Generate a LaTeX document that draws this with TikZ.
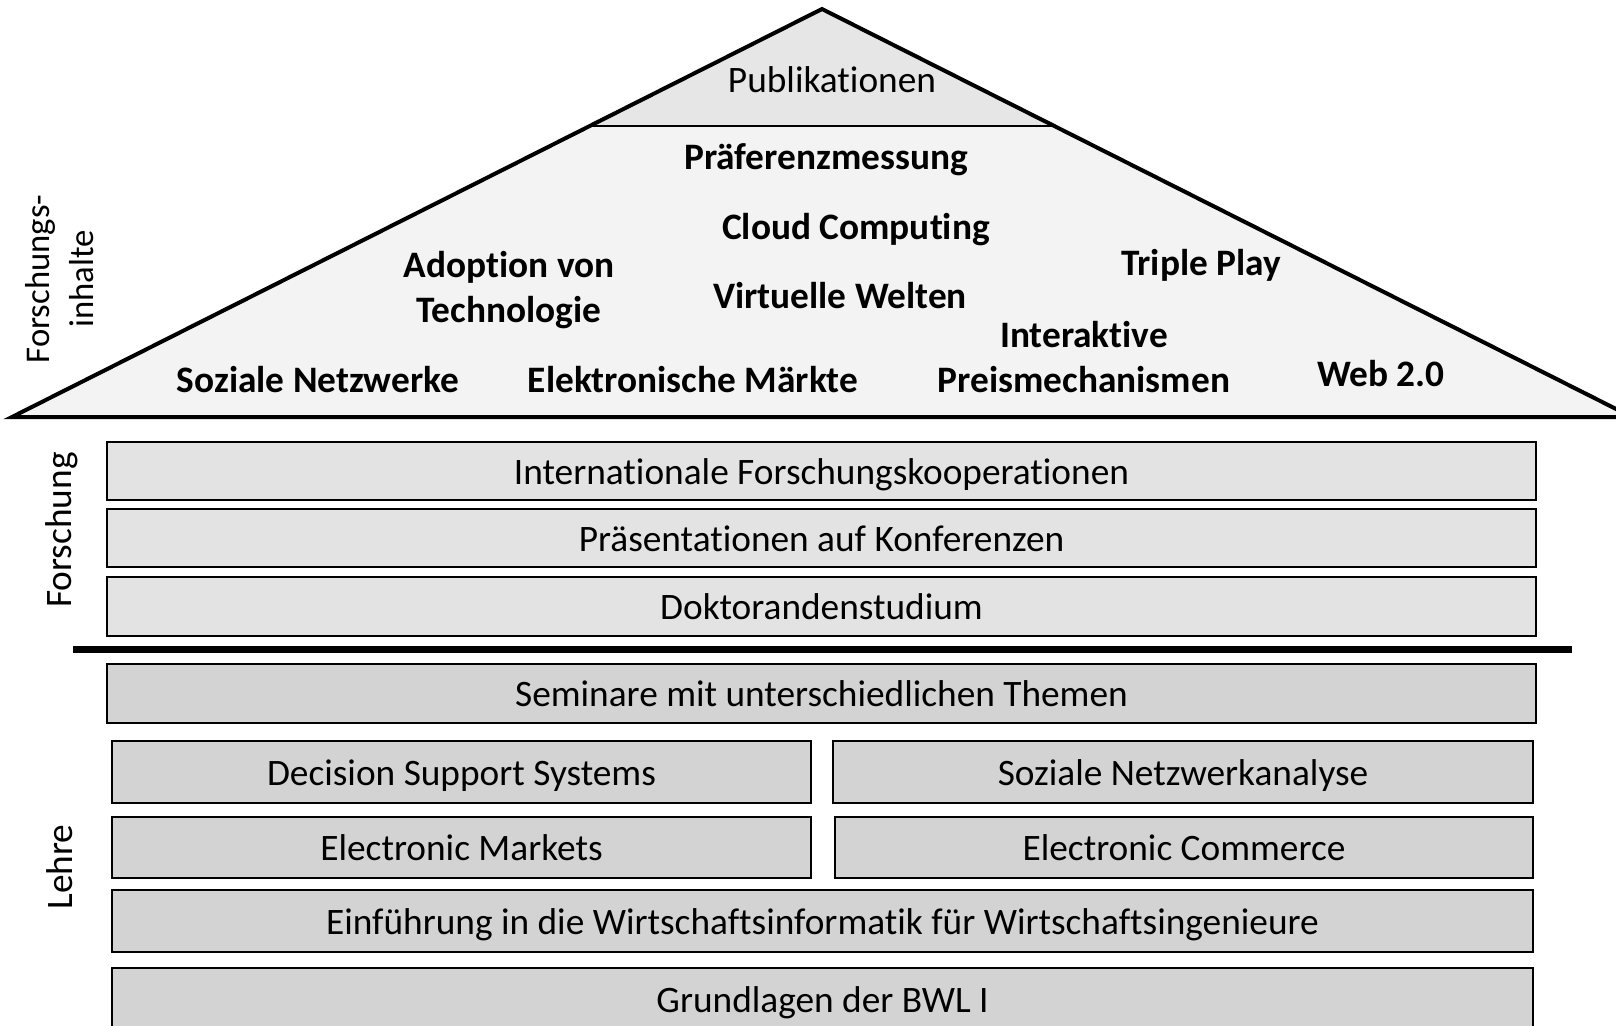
\documentclass[tikz,border=0pt]{standalone}
\usepackage{fontspec}
\setmainfont{Carlito}[RawFeature={-liga;-clig}]
\definecolor{roofpale}{HTML}{F3F3F3}
\definecolor{roofpub}{HTML}{E6E6E6}
\definecolor{researchfill}{HTML}{E3E3E3}
\definecolor{teachfill}{HTML}{D3D3D3}
\tikzset{
  band/.style 2 args={draw=black, line width=1.7pt, minimum width=#1*0.75pt,
    minimum height=#2*0.75pt, inner sep=0pt, text height=20pt, text depth=0.5pt,
    font=\fontsize{28}{33}\selectfont},
  resbox/.style 2 args={band={#1}{#2}, fill=researchfill},
  teachbox/.style 2 args={band={#1}{#2}, fill=teachfill},
  topic/.style={font=\bfseries\fontsize{28}{33.4}\selectfont, align=center,
    inner sep=0pt, anchor=base},
  sidelabel/.style={rotate=90, align=center, inner sep=0pt, font=\fontsize{28}{33}\selectfont},
}
\begin{document}
\begin{tikzpicture}[x=0.75pt, y=-0.75pt]
\useasboundingbox (0,0) rectangle (1616,1025);
\clip (0,0) rectangle (1616,1025);

% roof
\coordinate (roofL) at (12,417);
\coordinate (roofT) at (822,9);
\coordinate (roofR) at (1632,417);
\coordinate (pubL) at (590,126);
\coordinate (pubR) at (1054,126);
\fill[roofpale] (roofL) -- (roofT) -- (roofR) -- cycle;
\fill[roofpub] (pubL) -- (roofT) -- (pubR) -- cycle;
\draw[line width=0.9pt] (pubL) -- (pubR);
\draw[line width=3pt, line join=miter] (roofL) -- (roofT) -- (roofR) -- cycle;

\node[inner sep=0pt, anchor=base, font=\fontsize{28}{33}\selectfont] (pub) at (832,92.5) {Publikationen};

% research topics (baseline of the last line given)
\node[topic] (praef)  at (826,169.5) {Präferenzmessung};
\node[topic] (cloud)  at (856,239.7) {Cloud Computing};
\node[topic] (adopt)  at (509,322.2) {Adoption von\\Technologie};
\node[topic] (triple) at (1201,275.5) {Triple Play};
\node[topic] (virt)   at (840,308.8) {Virtuelle Welten};
\node[topic] (inter)  at (1084,392.3) {Interaktive\\Preismechanismen};
\node[topic] (sozn)   at (318,392.3) {Soziale Netzwerke};
\node[topic] (elm)    at (693,392) {Elektronische Märkte};
\node[topic] (web)    at (1381,386) {Web 2.0};

% research bands
\node[resbox={1429}{58}] (ifk) at (821.5,471) {Internationale Forschungskooperationen};
\node[resbox={1429}{58}] (pak) at (821.5,538) {Präsentationen auf Konferenzen};
\node[resbox={1429}{59}] (dok) at (821.5,606.5) {Doktorandenstudium};

% separator between research and teaching
\coordinate (sepL) at (73,649.5);
\coordinate (sepR) at (1572,649.5);
\draw[line width=5.25pt] (sepL) -- (sepR);

% teaching bands
\node[teachbox={1429}{59}] (sem) at (821.5,693.5) {Seminare mit unterschiedlichen Themen};
\node[teachbox={699}{62}] (dss) at (461.5,772) {Decision Support Systems};
\node[teachbox={700}{62}] (sna) at (1183,772) {Soziale Netzwerkanalyse};
\node[teachbox={699}{61}] (em) at (461.5,847.5) {Electronic Markets};
\node[teachbox={698}{61}] (ec) at (1184,847.5) {Electronic Commerce};
\node[teachbox={1421}{62}] (ewi) at (822.5,921) {Einführung in die Wirtschaftsinformatik für Wirtschaftsingenieure};
\node[teachbox={1421}{62}] (bwl) at (822.5,999) {Grundlagen der BWL I};

% side labels
\node[sidelabel, font=\fontsize{26}{33}\selectfont] (lblinh) at (60,279) {Forschungs-\\inhalte};
\node[sidelabel] (lblfor) at (62,530) {Forschung};
\node[sidelabel] (lbllehre) at (60,867) {Lehre};
\end{tikzpicture}
\end{document}
